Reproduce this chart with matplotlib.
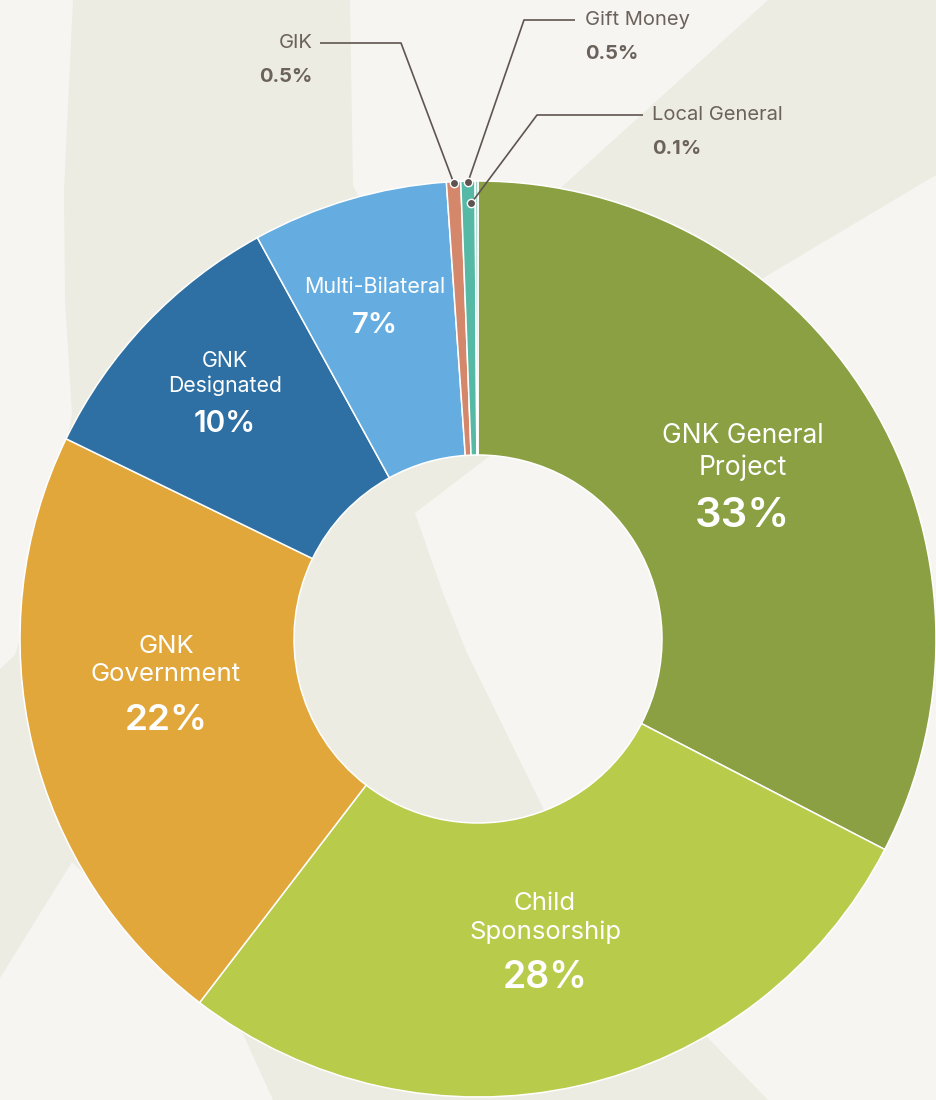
import numpy as np
import matplotlib
matplotlib.use("Agg")
import matplotlib.pyplot as plt
from matplotlib.patches import Polygon

plt.rcParams["font.family"] = ["Inter", "DejaVu Sans"]

# ---------------------------------------------------------------
# Data
sources = ["GNK General\nProject", "Child\nSponsorship", "GNK\nGovernment",
           "GNK\nDesignated", "Multi-Bilateral", "GIK", "Gift Money", "Local General"]
shares = [32.6, 27.8, 21.8, 9.8, 6.9, 0.5, 0.5, 0.1]
colors = ["#8ba042", "#b9cb4b", "#e2a73b", "#2e70a4", "#65ade0",
          "#d4876b", "#55b9a5", "#9fd6c8"]

# inside labels (first five slices): radius fraction, angle nudge, font sizes
lab_r = [0.707, 0.627, 0.683, 0.80, 0.80]
lab_dang = [3.9, 0.9, -9.4, -2.8, 0.0]
name_size = [19, 18.5, 18.5, 15.3, 15.5]
pct_size = [30, 27, 26.5, 21.5, 21]
pct_gap = [64, 60, 60, 50, 38]

W, H = 936, 1100
bg_light = "#f6f5f1"
bg_dark = "#edece2"
txt_grey = "#6b625c"

fig = plt.figure(figsize=(W / 100, H / 100), dpi=100, facecolor=bg_light)
ax = fig.add_axes([0, 0, 1, 1])
ax.set_facecolor(bg_light)


def px(x, y):
    # picture pixel (y down) -> axes units (y up)
    return (x, H - y)


# ---------------------------------------------------------------
# Decorative background swoosh
swoosh = [(73, 0), (350, 0), (353, 185), (420, 330), (565, 184), (768, 0),
          (936, 0), (936, 175), (765, 277), (600, 385), (487, 458), (415, 513),
          (443, 593), (467, 653), (500, 720), (543, 808), (630, 950), (708, 1038),
          (768, 1100), (273, 1100), (243, 1034), (150, 940), (72, 862), (0, 978),
          (0, 669), (15, 655), (45, 560), (72, 414), (65, 300), (64, 190)]
ax.add_patch(Polygon([px(*p) for p in swoosh], closed=True,
                     facecolor=bg_dark, edgecolor="none", zorder=0))

# ---------------------------------------------------------------
# Donut
cx, cy = px(478, 639)
r_out, r_in = 458, 184

wedges, _ = ax.pie(shares, colors=colors, startangle=90, counterclock=False,
                   center=(cx, cy), radius=r_out,
                   wedgeprops=dict(width=r_out - r_in, edgecolor="white",
                                   linewidth=1.1))
for w in wedges:
    w.set_zorder(2)

# inside labels
for i in range(5):
    w = wedges[i]
    mid = np.deg2rad((w.theta1 + w.theta2) / 2 + lab_dang[i])
    x = cx + lab_r[i] * r_out * np.cos(mid)
    y = cy + lab_r[i] * r_out * np.sin(mid)
    ax.text(x, y, sources[i], ha="center", va="center", color="white",
            fontsize=name_size[i], linespacing=1.28, zorder=3)
    ax.text(x, y - pct_gap[i], f"{shares[i]:.0f}%", ha="center", va="center",
            color="white", fontsize=pct_size[i], fontweight="semibold", zorder=3)

# outside labels for the tiny slices: (elbow, line end, text x, side, dot radius, angle nudge)
callouts = {
    5: ((401, 43), (320, 43), 313, "right", r_out - 1, 0.0),
    6: ((524, 20), (575, 20), 585, "left", r_out - 1, 0.0),
    7: ((537, 115), (643, 115), 652, "left", r_out - 22, 0.7),
}
for i, (elbow, end, tx, side, rr, nudge) in callouts.items():
    w = wedges[i]
    mid = np.deg2rad((w.theta1 + w.theta2) / 2 + nudge)
    ax_x = cx + rr * np.cos(mid)
    ax_y = cy + rr * np.sin(mid)
    ex, ey = px(*elbow)
    lx, ly = px(*end)
    ax.plot([ax_x, ex, lx], [ax_y, ey, ly], color="#5f5550", lw=1.2,
            solid_capstyle="butt", zorder=4)
    ax.plot([ax_x], [ax_y], marker="o", ms=6, color="#5f5550",
            mec="white", mew=1.0, zorder=5)
    ax.text(tx, ly, sources[i], ha=side, va="center", color=txt_grey,
            fontsize=14.5, zorder=4)
    ax.text(tx, ly - 34, f"{shares[i]:.1f}%", ha=side, va="center",
            color=txt_grey, fontsize=14.5, fontweight="bold", zorder=4)

ax.set_xlim(0, W)
ax.set_ylim(0, H)
ax.set_aspect("equal")
ax.axis("off")

fig.savefig("out.png", dpi=100, facecolor=bg_light)
